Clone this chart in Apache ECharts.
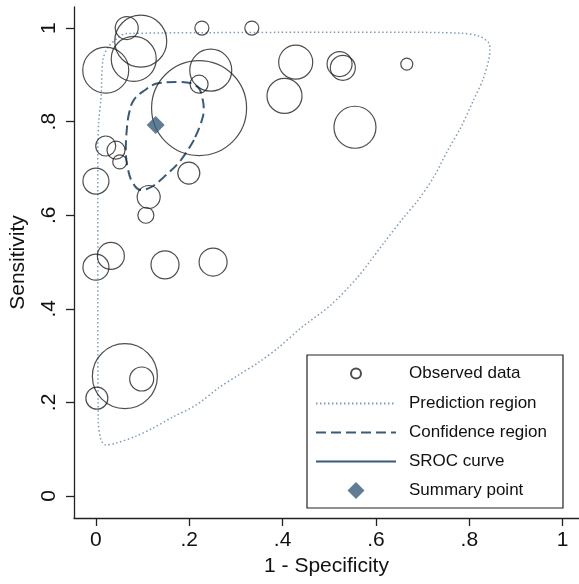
<!DOCTYPE html>
<html>
<head>
<meta charset="utf-8">
<script src="https://cdn.jsdelivr.net/npm/echarts@6/dist/echarts.min.js"></script>
<style>
html, body { margin: 0; padding: 0; background: #fff; }
#chart { width: 579px; height: 584px; }
</style>
</head>
<body>
<div id="chart"></div>
<script>
// observed studies: 1 - specificity, sensitivity, bubble diameter (study weight)
const fpr = [0.066, 0.096, 0.081, 0.021, 0.227, 0.334, 0.246, 0.221, 0.221, 0.021,
    0.043, 0.051, 0.000, 0.199, 0.113, 0.107, 0.032, 0.000, 0.148, 0.251,
    0.428, 0.404, 0.522, 0.529, 0.666, 0.555, 0.062, 0.098, 0.002];
const sens = [1.000, 0.972, 0.934, 0.910, 1.000, 1.000, 0.910, 0.880, 0.829, 0.748,
    0.739, 0.714, 0.673, 0.690, 0.639, 0.600, 0.513, 0.489, 0.494, 0.500,
    0.927, 0.855, 0.923, 0.915, 0.923, 0.788, 0.256, 0.250, 0.209];
const sizes = [23, 52, 45, 46, 14, 14, 42, 18, 95, 20,
    18, 14, 26, 22, 23, 16, 27, 26, 28, 28,
    34, 35, 25, 25, 12, 42, 65, 24, 22];

// summary point
const summaryPoint = [0.128, 0.793];

// 95% prediction region outline (x = 1 - specificity, y = sensitivity)
const predX = [0.450, 0.650, 0.782, 0.820, 0.842, 0.844,
    0.831, 0.809, 0.782, 0.754, 0.724, 0.690, 0.660, 0.617, 0.561, 0.503,
    0.439, 0.392, 0.349, 0.306, 0.263, 0.214, 0.165, 0.122, 0.086, 0.043,
    0.021, 0.011, 0.005, 0.004, 0.004, 0.006, 0.011, 0.015, 0.026, 0.047,
    0.064, 0.225, 0.450];
const predY = [0.991, 0.991, 0.989, 0.983, 0.968, 0.953,
    0.895, 0.846, 0.788, 0.739, 0.682, 0.632, 0.596, 0.541, 0.468, 0.408,
    0.359, 0.318, 0.286, 0.259, 0.231, 0.194, 0.169, 0.145, 0.128, 0.113,
    0.109, 0.120, 0.160, 0.420, 0.740, 0.800, 0.853, 0.932, 0.959, 0.979,
    0.988, 0.990, 0.991];

// 95% confidence region outline
const confX = [0.210, 0.182, 0.146, 0.118, 0.096, 0.079, 0.069, 0.064, 0.066, 0.071,
    0.081, 0.103, 0.133, 0.182, 0.218, 0.229, 0.231, 0.225, 0.210];
const confY = [0.761, 0.718, 0.682, 0.660, 0.654, 0.669, 0.697, 0.739, 0.782, 0.818,
    0.846, 0.866, 0.882, 0.885, 0.874, 0.846, 0.825, 0.797, 0.761];

const tickValues = [0, 0.2, 0.4, 0.6, 0.8, 1];

const font = '"Liberation Sans", Arial, Helvetica, sans-serif';
const navy = '#395b7a';
const dotBlue = '#7f9cb9';
const axisColor = '#222';

function tickText(v) {
    return (Math.round(v * 10) / 10).toString().replace(/^0\./, '.');
}

const chart = echarts.init(document.getElementById('chart'));

chart.setOption({
    animation: false,
    backgroundColor: '#fff',
    grid: { left: 73, right: 0, top: 7, bottom: 66 },
    xAxis: {
        type: 'value',
        min: -0.047,
        max: 1.035,
        name: '1 - Specificity',
        nameLocation: 'middle',
        nameGap: 37,
        nameTextStyle: { fontSize: 21, fontFamily: font, color: '#111' },
        axisLine: { onZero: false, lineStyle: { color: axisColor, width: 1.3 } },
        axisTick: { customValues: tickValues, length: 8, lineStyle: { color: axisColor, width: 1.3 } },
        axisLabel: { customValues: tickValues, fontSize: 21, fontFamily: font, color: '#111', margin: 12, formatter: tickText },
        splitLine: { show: false }
    },
    yAxis: {
        type: 'value',
        min: -0.047,
        max: 1.045,
        name: 'Sensitivity',
        nameLocation: 'middle',
        nameGap: 45,
        nameTextStyle: { fontSize: 21, fontFamily: font, color: '#111' },
        axisLine: { onZero: false, lineStyle: { color: axisColor, width: 1.3 } },
        axisTick: { customValues: tickValues, length: 8, lineStyle: { color: axisColor, width: 1.3 } },
        axisLabel: { customValues: tickValues, fontSize: 21, fontFamily: font, color: '#111', margin: 14, rotate: 90, formatter: tickText },
        splitLine: { show: false }
    },
    legend: {
        orient: 'vertical',
        left: 307,
        top: 355,
        itemWidth: 80,
        itemHeight: 17,
        itemGap: 12,
        symbolKeepAspect: true,
        padding: [9, 16, 9, 8],
        borderColor: axisColor,
        borderWidth: 1.2,
        textStyle: { fontSize: 17, fontFamily: font, color: '#111', padding: [0, 0, 0, 8] },
        data: [
            { name: 'Observed data', icon: 'path://M0,0M34,34M27,17A10,10,0,1,1,7,17A10,10,0,1,1,27,17Z' },
            { name: 'Prediction region', itemStyle: { opacity: 0 } },
            { name: 'Confidence region', itemStyle: { opacity: 0 } },
            { name: 'SROC curve', itemStyle: { opacity: 0 } },
            { name: 'Summary point', icon: 'path://M17,0L34,17L17,34L0,17Z' }
        ]
    },
    series: [
        {
            name: 'Prediction region',
            type: 'line',
            data: predX.map((x, i) => [x, predY[i]]),
            smooth: 0.3,
            symbol: 'none',
            itemStyle: { color: dotBlue },
            lineStyle: { color: dotBlue, width: 1.5, type: [1.5, 2.5] },
            z: 2
        },
        {
            name: 'Confidence region',
            type: 'line',
            data: confX.map((x, i) => [x, confY[i]]),
            smooth: 0.4,
            symbol: 'none',
            itemStyle: { color: navy },
            lineStyle: { color: navy, width: 2, type: [10, 5] },
            z: 3
        },
        {
            name: 'SROC curve',
            type: 'line',
            data: [],
            symbol: 'none',
            itemStyle: { color: navy },
            lineStyle: { color: navy, width: 2 }
        },
        {
            name: 'Observed data',
            type: 'scatter',
            data: fpr.map((x, i) => [x, sens[i], sizes[i]]),
            symbol: 'circle',
            symbolSize: d => d[2],
            itemStyle: { color: 'rgba(0,0,0,0)', borderColor: '#222', borderWidth: 1.2 },
            z: 4
        },
        {
            name: 'Summary point',
            type: 'scatter',
            data: [summaryPoint],
            symbol: 'diamond',
            symbolSize: 18,
            itemStyle: { color: navy },
            z: 5
        }
    ]
});
</script>
</body>
</html>
